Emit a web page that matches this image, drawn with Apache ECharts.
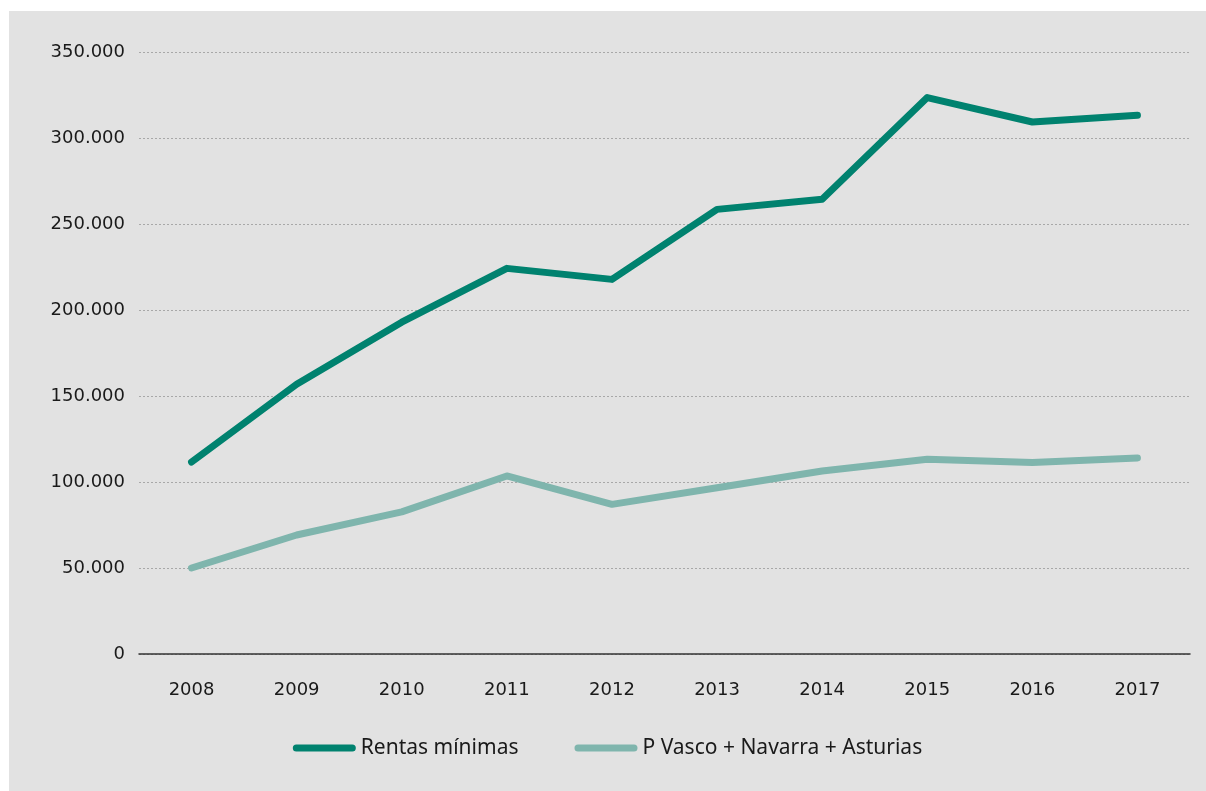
<!DOCTYPE html>
<html>
<head>
<meta charset="utf-8">
<script src="https://cdn.jsdelivr.net/npm/echarts@6/dist/echarts.min.js"></script>
<style>
html,body{margin:0;padding:0;background:#fff;width:1206px;height:791px;overflow:hidden;}
#c{position:absolute;left:9px;top:11px;width:1197px;height:780px;}
</style>
</head>
<body>
<div id="c"></div>
<script>
const years = ['2008','2009','2010','2011','2012','2013','2014','2015','2016','2017'];
const rentasMinimas = [111600, 156800, 192900, 224200, 217800, 258500, 264400, 323500, 309300, 313200];
const pVascoNavarraAsturias = [50000, 69200, 82600, 103500, 87000, 96700, 106400, 113200, 111300, 114000];
const seriesNames = ['Rentas mínimas', 'P Vasco + Navarra + Asturias'];

const AXFONT = '"DejaVu Sans", sans-serif';
const LGFONT = '"Noto Sans", sans-serif';
const chart = echarts.init(document.getElementById('c'));
function fmt(v){ return String(v).replace(/\B(?=(\d{3})+(?!\d))/g, '.'); }
const pill = 'path://M3.5,0 L59.5,0 A3.5,3.5 0 0 1 59.5,7 L3.5,7 A3.5,3.5 0 0 1 3.5,0 Z';
chart.setOption({
  backgroundColor: '#e2e2e2',
  animation: false,
  grid: { left: 130, right: 16, top: 41, bottom: 137, containLabel: false },
  legend: {
    top: 721,
    left: 'center',
    itemWidth: 63,
    itemHeight: 7,
    itemGap: 56,
    textStyle: { fontSize: 21, lineHeight: 22, color: '#1a1a1a', fontFamily: LGFONT },
    data: seriesNames.map(n => ({ name: n, icon: pill }))
  },
  xAxis: {
    type: 'category',
    data: years,
    boundaryGap: true,
    axisLine: { lineStyle: { color: '#333', width: 1.5 } },
    axisTick: { show: false },
    axisLabel: { color: '#1a1a1a', fontSize: 18, margin: 27, fontFamily: AXFONT }
  },
  yAxis: {
    type: 'value',
    min: 0, max: 350000, interval: 50000,
    axisLine: { show: false },
    axisTick: { show: false },
    axisLabel: { color: '#1a1a1a', fontSize: 18, margin: 14, fontFamily: AXFONT, formatter: v => fmt(v) },
    splitLine: { lineStyle: { color: '#a8a8a8', type: [2, 2], width: 1 } }
  },
  series: [
    {
      name: seriesNames[0], type: 'line', data: rentasMinimas,
      symbol: 'none', smooth: false,
      lineStyle: { color: '#00826f', width: 7, cap: 'round', join: 'round' },
      itemStyle: { color: '#00826f' }
    },
    {
      name: seriesNames[1], type: 'line', data: pVascoNavarraAsturias,
      symbol: 'none', smooth: false,
      lineStyle: { color: '#7fb5ad', width: 7, cap: 'round', join: 'round' },
      itemStyle: { color: '#7fb5ad' }
    }
  ]
});
</script>
</body>
</html>
